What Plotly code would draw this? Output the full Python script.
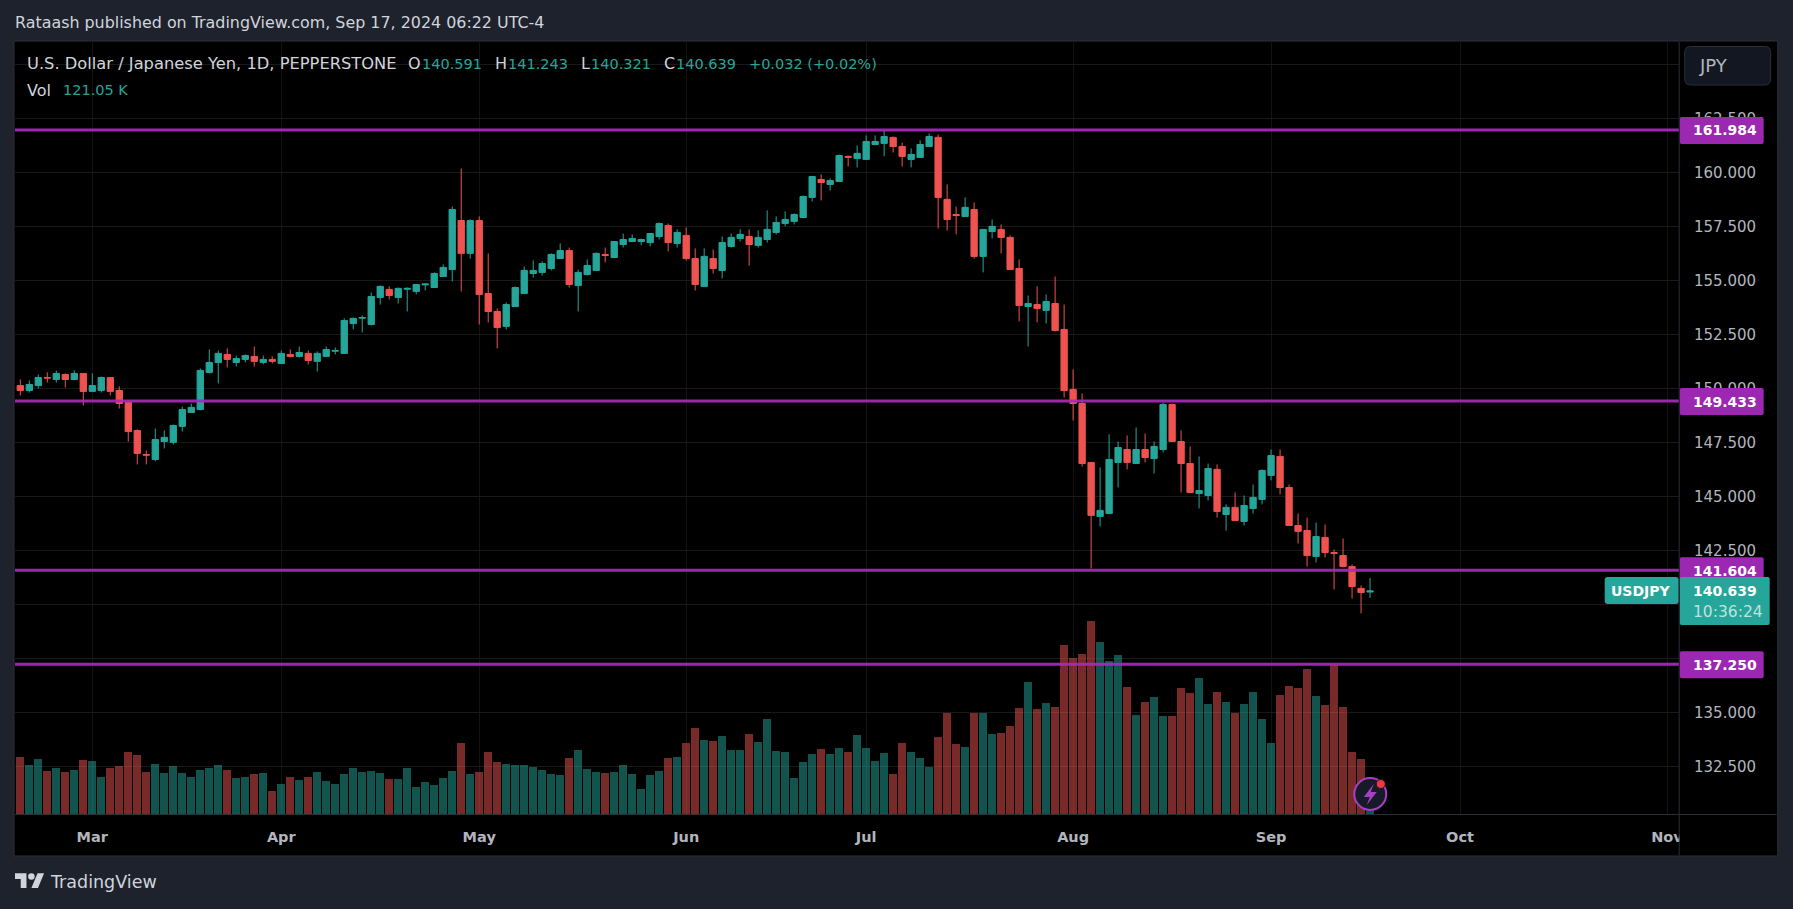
import plotly.graph_objects as go

# ---------------- data ----------------
OPEN = [150.15,149.92,150.15,150.52,150.43,150.66,150.43,150.71,149.88,149.92,
150.52,149.92,149.37,148.07,146.96,146.73,147.56,147.52,148.26,148.90,
149.04,150.76,151.22,151.59,151.22,151.36,151.50,151.22,151.36,151.17,
151.59,151.50,151.64,151.27,151.50,151.74,151.64,153.02,153.27,152.98,
154.23,154.60,154.23,154.61,154.51,154.81,154.69,155.20,155.52,157.79,
156.27,157.79,154.41,153.58,152.89,153.81,154.41,155.34,155.39,155.57,
156.03,156.40,154.78,155.29,155.48,156.22,156.08,156.68,156.82,156.82,
156.77,157.05,157.56,156.73,157.10,156.03,154.74,156.03,155.48,156.59,
156.96,157.05,156.64,156.91,157.24,157.65,157.75,157.93,158.86,159.69,
159.46,159.60,160.76,160.66,160.62,161.31,161.36,161.64,161.22,160.62,
160.71,161.22,161.64,158.77,158.07,157.98,158.30,156.13,157.28,157.38,
157.01,155.57,153.81,153.90,153.63,153.95,152.75,149.97,149.32,146.59,
144.09,144.23,146.59,147.19,146.54,147.19,146.77,147.19,149.27,147.56,
146.54,145.15,145.06,146.27,144.18,144.51,143.86,144.46,144.88,145.99,
146.87,145.43,143.67,143.44,142.24,143.12,142.42,142.28,141.77,140.76,
140.591]
HIGH = [150.43,150.39,150.66,150.76,150.85,150.71,150.85,150.71,150.71,150.57,
150.52,150.11,149.46,148.12,147.15,148.16,148.07,148.35,149.18,149.32,
150.94,151.82,151.77,151.87,151.54,151.59,151.96,151.54,151.50,151.77,
151.82,151.96,151.77,151.73,151.96,151.91,153.26,153.30,153.40,154.46,
154.78,154.74,154.69,154.69,154.83,154.88,155.39,155.76,158.44,160.20,
157.84,157.98,156.27,153.72,154.00,154.74,155.66,155.94,155.90,156.27,
156.73,156.54,155.52,155.99,156.31,156.54,156.82,157.19,157.15,156.96,
157.19,157.70,157.65,157.38,157.47,156.50,156.50,156.45,157.05,157.19,
157.38,157.38,157.33,158.26,157.98,158.21,158.12,158.95,159.83,159.92,
159.74,160.85,160.80,161.27,161.73,161.73,161.96,161.68,161.40,161.13,
161.50,161.82,161.77,159.46,158.44,158.86,158.63,157.38,157.84,157.61,
157.10,155.99,154.32,154.74,154.37,155.20,153.90,150.90,149.78,146.59,
146.36,147.89,147.56,147.84,148.21,147.93,147.56,149.37,149.32,148.07,
147.33,146.87,146.54,146.50,144.65,145.20,145.06,145.57,146.27,147.19,
147.19,145.57,144.23,144.04,143.81,143.72,142.56,143.07,141.87,140.90,
141.243]
LOW = [149.69,149.83,150.02,150.29,150.29,150.06,150.39,149.23,149.88,149.83,
149.69,149.09,147.56,146.50,146.50,146.64,147.24,147.42,148.02,148.90,
149.00,150.71,150.25,150.99,151.03,151.22,151.03,151.13,151.17,151.17,
151.45,151.45,151.13,150.80,151.50,151.59,151.64,152.75,152.61,152.93,
153.90,154.14,153.95,153.58,154.37,154.55,154.69,155.20,154.97,154.51,
156.03,152.98,153.07,151.87,152.75,153.81,154.41,155.15,155.25,155.48,
156.03,154.69,153.58,155.25,155.48,155.85,156.08,156.54,156.82,156.64,
156.59,156.91,156.36,156.54,155.94,154.55,154.74,155.34,155.11,156.54,
156.82,155.71,156.54,156.77,157.15,157.52,157.61,157.93,158.67,158.72,
159.18,159.60,160.29,160.25,160.62,161.27,160.76,160.94,160.29,160.25,
160.71,161.22,157.42,157.33,157.15,157.98,156.03,155.39,156.96,156.27,
155.52,153.12,151.96,153.07,153.02,152.65,149.60,148.53,146.40,141.68,
143.63,144.23,145.43,146.27,146.54,146.59,146.08,147.05,147.56,145.20,
145.20,144.46,144.83,144.04,143.44,143.90,143.67,144.23,144.65,145.76,
145.11,143.67,142.84,141.77,141.96,142.19,140.71,141.73,140.29,139.60,
140.321]
CLOSE = [149.92,150.20,150.52,150.50,150.71,150.43,150.71,149.88,150.15,150.52,
149.88,149.32,148.02,147.01,146.93,147.65,147.75,148.30,149.04,149.14,
150.85,151.22,151.64,151.36,151.40,151.54,151.27,151.36,151.27,151.64,
151.50,151.68,151.31,151.64,151.82,151.77,153.16,153.26,153.30,154.27,
154.74,154.32,154.65,154.65,154.83,154.85,155.34,155.62,158.30,156.27,
157.79,154.37,153.58,152.84,153.90,154.69,155.48,155.48,155.80,156.22,
156.40,154.83,155.39,155.71,156.27,156.17,156.82,156.91,156.96,156.91,
157.19,157.65,156.77,157.24,156.03,154.83,156.13,155.57,156.77,157.01,
157.15,156.68,157.01,157.38,157.70,157.84,158.07,158.90,159.83,159.55,
159.64,160.80,160.72,160.90,161.45,161.45,161.68,161.22,160.76,160.85,
161.31,161.68,158.86,157.84,158.02,158.40,156.13,157.38,157.52,157.01,
155.52,153.86,153.95,153.72,154.04,152.70,149.92,149.32,146.54,144.14,
144.37,146.73,147.28,146.59,147.19,146.82,147.33,149.27,147.56,146.54,
145.20,145.29,146.31,144.32,144.51,143.90,144.60,144.97,146.22,146.91,
145.43,143.67,143.40,142.28,143.16,142.42,142.38,141.77,140.85,140.57,
140.639]
VOLUME_K = [2280,1960,2200,1720,1840,1680,1760,2160,2120,1480,
1840,1920,2480,2360,1680,2000,1640,1920,1640,1480,
1760,1840,1960,1760,1440,1480,1600,1640,920,1200,
1480,1360,1480,1680,1320,1200,1600,1840,1680,1720,
1640,1400,1400,1840,1080,1280,1160,1440,1720,2840,
1600,1680,2480,2080,2000,1960,1960,1880,1760,1600,
1560,2240,2560,1800,1680,1640,1680,1960,1600,1000,
1560,1720,2240,2280,2840,3440,2960,2920,3120,2560,
2560,3200,2880,3800,2520,2480,1440,2080,2400,2600,
2400,2640,2480,3160,2640,2120,2440,1600,2840,2480,
2240,1880,3080,4040,2800,2680,4040,4040,3200,3240,
3520,4240,5280,4200,4440,4280,6760,6240,6400,7720,
6880,6120,6360,5080,3960,4480,4680,3920,3920,5040,
4840,5440,4400,4880,4480,4040,4400,4880,3800,2840,
4760,5120,5040,5800,4720,4360,5960,4280,2480,2200,121.05]
SESSION = list(range(len(OPEN)))
MONTH_SESSION = [8, 29, 51, 74, 94, 117, 139, 160, 183]
MONTH_LABEL = ["Mar", "Apr", "May", "Jun", "Jul", "Aug", "Sep", "Oct", "Nov"]
PRICE_TICKS = [132.5, 135, 137.5, 140, 142.5, 145, 147.5, 150, 152.5, 155, 157.5, 160, 162.5, 165]
PRICE_TICK_TEXT = ["132.500", "135.000", "", "", "142.500", "145.000", "147.500", "150.000",
                   "152.500", "155.000", "157.500", "160.000", "162.500", ""]
LEVELS = [161.984, 149.433, 141.604, 137.25]
LEVEL_LABELS = ["161.984", "149.433", "141.604", "137.250"]

# ---------------- styles ----------------
W, H = 1793, 909
L, R, T, B = 15, 1679.3, 42, 814
FONT = "DejaVu Sans"
BG = "#1e222d"
BORDER = "#2a2e39"
TEAL = "#26a69a"
RED = "#ef5350"
PURPLE = "#9c27b0"
TXT = "#b2b5be"
LEG = "#d1d4dc"
PX_PER_UNIT = 21.6
Y160 = 172.8
PRICE_AT_TOP = 160 + (Y160 - T) / PX_PER_UNIT
PRICE_AT_BOTTOM = 160 - (B - Y160) / PX_PER_UNIT
X0 = -(20.3 - L) / 9
X1 = (R - 20.3) / 9
VOL_TOP = (B - T) * 40


def X(px):
    return (px - L) / (R - L)


def Y(py):
    return (B - py) / (B - T)


def py_of(price):
    return Y160 + (160 - price) * PX_PER_UNIT


def box(x0, y0, x1, y1, r=0):
    if r == 0:
        pts = f"M{X(x0)},{Y(y0)} L{X(x1)},{Y(y0)} L{X(x1)},{Y(y1)} L{X(x0)},{Y(y1)} Z"
    else:
        pts = (f"M{X(x0+r)},{Y(y0)} L{X(x1-r)},{Y(y0)} Q{X(x1)},{Y(y0)} {X(x1)},{Y(y0+r)} "
               f"L{X(x1)},{Y(y1-r)} Q{X(x1)},{Y(y1)} {X(x1-r)},{Y(y1)} "
               f"L{X(x0+r)},{Y(y1)} Q{X(x0)},{Y(y1)} {X(x0)},{Y(y1-r)} "
               f"L{X(x0)},{Y(y0+r)} Q{X(x0)},{Y(y0)} {X(x0+r)},{Y(y0)} Z")
    return pts


def rect(x0, y0, x1, y1, fill, r=0, line=None, layer="above", lw=1):
    return dict(type="path", xref="paper", yref="paper", layer=layer,
                path=box(x0, y0, x1, y1, r), fillcolor=fill,
                line=dict(color=line or "rgba(0,0,0,0)", width=lw if line else 0))


def label(x, y, s, color=LEG, size=14.5, anchor="left", weight=None, font=FONT):
    return dict(xref="paper", yref="paper", x=X(x), y=Y(y), text=s, showarrow=False,
                xanchor=anchor, yanchor="middle", align=anchor, borderpad=0, borderwidth=0,
                font=dict(family=font, size=size, color=color, weight=weight or 400))


shapes = [rect(14, 41, 1778, 856, "#000000", line=BORDER, layer="below")]

# right-hand bottom corner hides the clipped month label
shapes.append(rect(1680, 815, 1777, 855, "#000000"))

# horizontal levels, drawn on the price axis
for lv in LEVELS:
    shapes.append(dict(type="line", xref="paper", yref="y", x0=0, x1=1, y0=lv, y1=lv,
                       layer="above", line=dict(color="rgba(168,42,190,0.92)", width=3)))

# price tags
for lv in LEVELS:
    c = py_of(lv) + 0.5
    shapes.append(rect(1680, c - 13.5, 1764, c + 13.5, PURPLE, r=2))
shapes.append(rect(1605, 577, 1679, 604, TEAL, r=3))
shapes.append(rect(1680, 577, 1770, 625, TEAL, r=2))

# currency button
shapes.append(rect(1685, 46.5, 1771, 85, "#131722", r=6, line=BORDER))

# separators
shapes.append(dict(type="line", xref="paper", yref="paper", x0=X(1679.5), x1=X(1679.5),
                   y0=Y(42), y1=Y(855.5), layer="above", line=dict(color=BORDER, width=1)))
shapes.append(dict(type="line", xref="paper", yref="paper", x0=X(15), x1=X(1777),
                   y0=Y(814.5), y1=Y(814.5), layer="above", line=dict(color=BORDER, width=1)))

# alert badge
shapes.append(dict(type="circle", xref="paper", yref="paper", layer="above",
                   x0=X(1354.5), x1=X(1386.5), y0=Y(778), y1=Y(810),
                   fillcolor="#171b27", line=dict(color="#a63fc4", width=2)))
bolt = [(1374, 784), (1364, 797), (1370, 797), (1367, 805), (1377, 792), (1371, 792)]
shapes.append(dict(type="path", xref="paper", yref="paper", layer="above",
                   path="M" + " L".join(f"{X(a)},{Y(b)}" for a, b in bolt) + " Z",
                   fillcolor="#a63fc4", line=dict(width=0)))
shapes.append(dict(type="circle", xref="paper", yref="paper", layer="above",
                   x0=X(1376.5), x1=X(1385.5), y0=Y(779.5), y1=Y(788.5),
                   fillcolor="#f23645", line=dict(color="#171b27", width=1)))

# brand mark, bottom left
LOGO_X, LOGO_Y, LOGO_S = 15, 870, 0.82
mark = [(14, 22), (7, 22), (7, 11), (0, 11), (0, 4), (14, 4)]
mark2 = [(28, 22), (20, 22), (27.5, 4), (35.5, 4)]
for poly in (mark, mark2):
    shapes.append(dict(type="path", xref="paper", yref="paper", layer="above",
                       path="M" + " L".join(f"{X(LOGO_X + a * LOGO_S)},{Y(LOGO_Y + b * LOGO_S)}"
                                            for a, b in poly) + " Z",
                       fillcolor="#d1d4dc", line=dict(width=0)))
shapes.append(dict(type="circle", xref="paper", yref="paper", layer="above",
                   x0=X(LOGO_X + 16 * LOGO_S), x1=X(LOGO_X + 24 * LOGO_S),
                   y0=Y(LOGO_Y + 4 * LOGO_S), y1=Y(LOGO_Y + 12 * LOGO_S),
                   fillcolor="#d1d4dc", line=dict(width=0)))

ann = [
    label(15, 23, "Rataash published on TradingView.com, Sep 17, 2024 06:22 UTC-4", size=15.9),
    label(27.5, 64, "U.S. Dollar / Japanese Yen, 1D, PEPPERSTONE", size=16.3),
    label(408.5, 64, "O", size=16), label(422, 64, "140.591", TEAL),
    label(495, 64, "H", size=16), label(508, 64, "141.243", TEAL),
    label(581, 64, "L", size=16), label(591, 64, "140.321", TEAL),
    label(664, 64, "C", size=16), label(676, 64, "140.639", TEAL),
    label(749, 64, "+0.032 (+0.02%)", TEAL),
    label(27.5, 90, "Vol", size=16), label(63, 90, "121.05 K", TEAL),
    label(1699, 65.5, "JPY", TXT, 18),
    label(1611, 590.5, "USDJPY", "#ffffff", 14, weight=700),
    label(1693.5, 590.5, "140.639", "#ffffff", 14, weight=700),
    label(1693.5, 612, "10:36:24", "rgba(255,255,255,0.7)", 15.5),
    label(50, 882, "TradingView", "#d1d4dc", 17.5),
]
for lv, s in zip(LEVELS, LEVEL_LABELS):
    ann.append(label(1693.5, py_of(lv) + 0.5, s, "#ffffff", 14, weight=700))

vol_colors = [
    "rgba(38,166,154,0.5)" if c >= o else "rgba(239,83,80,0.5)"
    for o, c in zip(OPEN, CLOSE)
]

fig = go.Figure()
fig.add_trace(go.Bar(x=SESSION, y=VOLUME_K, yaxis="y2", marker=dict(color=vol_colors, line=dict(width=0)),
                     width=0.88, name="Vol", hoverinfo="skip"))
fig.add_trace(go.Candlestick(
    x=SESSION, open=OPEN, high=HIGH, low=LOW, close=CLOSE, name="USDJPY",
    increasing=dict(line=dict(color=TEAL, width=1), fillcolor=TEAL),
    decreasing=dict(line=dict(color=RED, width=1), fillcolor=RED),
    whiskerwidth=0,
))
fig.update_layout(
    width=W, height=H, autosize=False, showlegend=False,
    margin=dict(l=L, r=W - R, t=T, b=H - B, pad=0, autoexpand=False),
    paper_bgcolor=BG, plot_bgcolor="#000000",
    font=dict(family=FONT, color=TXT, size=15),
    boxgap=0.3, boxgroupgap=0, bargap=0,
    shapes=shapes, annotations=ann, hovermode=False,
    xaxis=dict(range=[X0, X1], tickmode="array", tickvals=MONTH_SESSION, ticktext=MONTH_LABEL,
               showgrid=True, gridcolor="#131313", gridwidth=1, zeroline=False, showline=False,
               ticks="", rangeslider=dict(visible=False), automargin=False,
               tickfont=dict(family=FONT, size=14.5, color=TXT, weight=600),
               ticklabelstandoff=12),
    yaxis=dict(range=[PRICE_AT_BOTTOM, PRICE_AT_TOP], side="right", tickmode="array",
               tickvals=PRICE_TICKS, ticktext=PRICE_TICK_TEXT,
               showgrid=True, gridcolor="#191919", gridwidth=1, zeroline=False, showline=False,
               ticks="", automargin=False, tickfont=dict(family=FONT, size=15, color=TXT),
               ticklabelstandoff=14),
    yaxis2=dict(range=[0, VOL_TOP], overlaying="y", side="left", visible=False, fixedrange=True),
)
fig.write_html(
    "out.html",
    config=dict(displayModeBar=False),
    post_script="document.body.style.margin='0';document.body.style.background='#1e222d';document.body.style.overflow='hidden';",
)
